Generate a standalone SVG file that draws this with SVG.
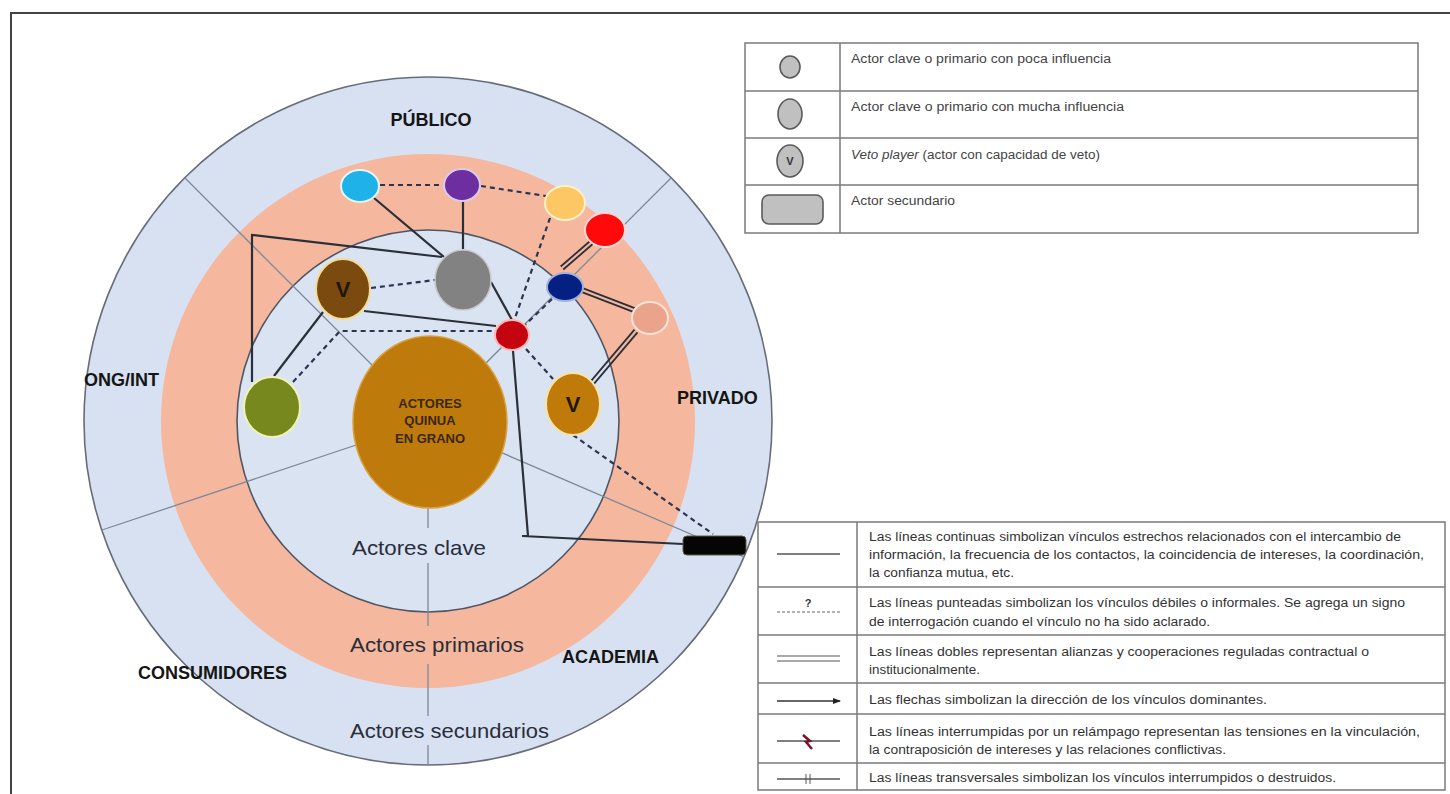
<svg xmlns="http://www.w3.org/2000/svg" width="1450" height="794" viewBox="0 0 1450 794">
<style>
  .sector{stroke:#7d889a;stroke-width:1.3;fill:none}
  .solid{stroke:#2b2f38;stroke-width:2.2;fill:none}
  .dash{stroke:#2a3550;stroke-width:2.2;fill:none;stroke-dasharray:5 4}
  .dbl{stroke:#2b2f38;stroke-width:1.8;fill:none}
  .lab{font-family:"Liberation Sans",Arial,sans-serif;font-weight:bold;font-size:18px;fill:#151515}
  .ring{font-family:"Liberation Sans",Arial,sans-serif;font-size:21px;fill:#2a2d3a}
  .v{font-family:"Liberation Sans",Arial,sans-serif;font-weight:bold;font-size:22px;fill:#1f1608;text-anchor:middle}
  .lt{font-family:"Liberation Sans",Arial,sans-serif;font-size:12px;fill:#444}
  .lb{font-family:"Liberation Sans",Arial,sans-serif;font-size:12px;fill:#333}
  .tbl{stroke:#7a7a7a;stroke-width:1.5;fill:none}
  .sym{fill:#c0c0c0;stroke:#5a5a5a;stroke-width:1.6}
  .qt{font-family:"Liberation Sans",Arial,sans-serif;font-weight:bold;font-size:13px;fill:#3a2710;text-anchor:middle}
</style>
<defs>
  <marker id="arr" markerWidth="8" markerHeight="6" refX="7" refY="3" orient="auto" markerUnits="userSpaceOnUse">
    <path d="M0,0 L8,3 L0,6 Z" fill="#222"/>
  </marker>
</defs>
<rect x="0" y="0" width="1450" height="794" fill="#ffffff"/>
<!-- frame -->
<path d="M11,794 L11,13 L1450,13" fill="none" stroke="#444" stroke-width="2"/>

<!-- rings -->
<g id="rings">
  <circle cx="428" cy="421" r="344" fill="#d7e1f1" stroke="#666c78" stroke-width="1.6"/>
  <circle cx="428" cy="421" r="267" fill="#f5b89e"/>
  <circle cx="428" cy="421" r="191" fill="#d9e3f2" stroke="#4f5563" stroke-width="1.6"/>
</g>

<!-- sector dividers -->
<g id="sectors">
  <line class="sector" x1="428" y1="421" x2="185" y2="178"/>
  <line class="sector" x1="428" y1="421" x2="671" y2="178"/>
  <line class="sector" x1="428" y1="421" x2="744" y2="557"/>
  <line class="sector" x1="428" y1="421" x2="102" y2="530"/>
  <line class="sector" x1="428" y1="508" x2="428" y2="528"/>
  <line class="sector" x1="428" y1="563" x2="428" y2="626"/>
  <line class="sector" x1="428" y1="664" x2="428" y2="716"/>
  <line class="sector" x1="428" y1="745" x2="428" y2="765"/>
</g>

<!-- labels -->
<g id="labels">
  <text class="lab" x="431" y="126" text-anchor="middle">PÚBLICO</text>
  <text class="lab" x="84" y="386">ONG/INT</text>
  <text class="lab" x="677" y="404">PRIVADO</text>
  <text class="lab" x="138" y="679">CONSUMIDORES</text>
  <text class="lab" x="562" y="663">ACADEMIA</text>
  <text class="ring" x="352" y="555" textLength="134" lengthAdjust="spacingAndGlyphs">Actores clave</text>
  <text class="ring" x="350" y="652" textLength="174" lengthAdjust="spacingAndGlyphs" fill="#3a2a2a">Actores primarios</text>
  <text class="ring" x="350" y="738" textLength="199" lengthAdjust="spacingAndGlyphs">Actores secundarios</text>
</g>

<!-- connectors -->
<g id="connectors">
  <!-- solid -->
  <line class="solid" x1="374" y1="198" x2="444" y2="257"/>
  <line class="solid" x1="463" y1="202" x2="463" y2="249"/>
  <line class="solid" x1="491" y1="282" x2="512" y2="320"/>
  <line class="solid" x1="364" y1="311" x2="496" y2="326"/>
  <polyline class="solid" points="442,257 252,235 252,382"/>
  <line class="solid" x1="323" y1="312" x2="274" y2="376"/>
  <polyline class="solid" points="513,351 528,536 522,536 683,544"/>
  <!-- dashed -->
  <line class="dash" x1="380" y1="185" x2="444" y2="185"/>
  <line class="dash" x1="481" y1="186" x2="546" y2="196"/>
  <line class="dash" x1="550" y1="218" x2="514" y2="321"/>
  <line class="dash" x1="371" y1="288" x2="435" y2="280"/>
  <polyline class="dash" points="293,382 340,331 495,331"/>
  <line class="dash" x1="552" y1="299" x2="524" y2="326"/>
  <line class="dash" x1="526" y1="349" x2="553" y2="379"/>
  <line class="dash" x1="573" y1="435" x2="713" y2="534"/>
  <!-- double -->
  <line class="dbl" x1="593.3" y1="243.5" x2="563.3" y2="269.5"/>
  <line class="dbl" x1="590.7" y1="240.5" x2="560.7" y2="266.5"/>
  <line class="dbl" x1="581.3" y1="291.9" x2="633.3" y2="311.9"/>
  <line class="dbl" x1="582.7" y1="288.1" x2="634.7" y2="308.1"/>
  <line class="dbl" x1="637.5" y1="332.3" x2="593.5" y2="384.3"/>
  <line class="dbl" x1="634.5" y1="329.7" x2="590.5" y2="381.7"/>
</g>

<!-- nodes -->
<g id="node-actores">
  <ellipse cx="430" cy="422" rx="77" ry="86" fill="#bf7a0c" stroke="#d9a040" stroke-width="1.5"/>
  <text class="qt" x="430" y="408">ACTORES</text>
  <text class="qt" x="430" y="425">QUINUA</text>
  <text class="qt" x="430" y="443">EN GRANO</text>
</g>
<g id="node-cyan"><ellipse cx="360" cy="186" rx="19" ry="16" fill="#1fb2e8" stroke="#e4f6fc" stroke-width="2"/></g>
<g id="node-purple"><ellipse cx="462" cy="185" rx="18" ry="16" fill="#6d2fa0" stroke="#dccbeb" stroke-width="2"/></g>
<g id="node-yellow"><ellipse cx="565" cy="203" rx="20" ry="17" fill="#fdc765" stroke="#fff1c8" stroke-width="2"/></g>
<g id="node-red"><ellipse cx="605" cy="230" rx="20" ry="17" fill="#fe0a0a" stroke="#ffd6d6" stroke-width="2"/></g>
<g id="node-navy"><ellipse cx="565" cy="287" rx="18" ry="14" fill="#042082" stroke="#a3b0da" stroke-width="2"/></g>
<g id="node-salmon"><ellipse cx="650" cy="318" rx="18" ry="16" fill="#eba48c" stroke="#fbe3da" stroke-width="2"/></g>
<g id="node-grey"><ellipse cx="463" cy="280" rx="28" ry="30" fill="#828282" stroke="#c8c8c8" stroke-width="1.5"/></g>
<g id="node-brown-v">
  <ellipse cx="343" cy="289" rx="27" ry="30" fill="#7a4a0e" stroke="#f3dc98" stroke-width="2"/>
  <text class="v" x="343" y="297">V</text>
</g>
<g id="node-darkred"><ellipse cx="512" cy="335" rx="17" ry="15" fill="#c40510" stroke="#ffb6b6" stroke-width="2"/></g>
<g id="node-ochre-v">
  <ellipse cx="573" cy="404" rx="27" ry="31" fill="#c07a0a" stroke="#f8e2a6" stroke-width="2"/>
  <text class="v" x="573" y="412">V</text>
</g>
<g id="node-green"><ellipse cx="272" cy="407" rx="28" ry="30" fill="#77881f" stroke="#f2f2b8" stroke-width="2"/></g>
<g id="node-black"><rect x="683" y="536" width="63" height="19" rx="4" fill="#050505" stroke="#5a5a40" stroke-width="1"/></g>

<!-- top legend -->
<g id="legend-top">
  <rect class="tbl" x="745" y="43" width="673" height="190"/>
  <line class="tbl" x1="745" y1="91" x2="1418" y2="91"/>
  <line class="tbl" x1="745" y1="138" x2="1418" y2="138"/>
  <line class="tbl" x1="745" y1="185" x2="1418" y2="185"/>
  <line class="tbl" x1="840" y1="43" x2="840" y2="233"/>
  <ellipse class="sym" cx="790" cy="67" rx="10" ry="11"/>
  <ellipse class="sym" cx="790" cy="114" rx="12" ry="15"/>
  <ellipse class="sym" cx="790" cy="161" rx="13" ry="16"/>
  <text x="790" y="165" text-anchor="middle" font-family="Liberation Sans, Arial, sans-serif" font-size="11" font-weight="bold" fill="#333">V</text>
  <rect class="sym" x="762" y="195" width="61" height="29" rx="7"/>
  <text class="lt" x="851" y="63" textLength="260" lengthAdjust="spacingAndGlyphs">Actor clave o primario con poca influencia</text>
  <text class="lt" x="851" y="111" textLength="273" lengthAdjust="spacingAndGlyphs">Actor clave o primario con mucha influencia</text>
  <text class="lt" x="851" y="159" textLength="249" lengthAdjust="spacingAndGlyphs"><tspan font-style="italic">Veto player</tspan> (actor con capacidad de veto)</text>
  <text class="lt" x="851" y="205" textLength="104" lengthAdjust="spacingAndGlyphs">Actor secundario</text>
</g>

<!-- bottom legend -->
<g id="legend-bottom">
  <rect class="tbl" x="758" y="522" width="687" height="268" fill="#fff"/>
  <line class="tbl" x1="758" y1="587" x2="1445" y2="587"/>
  <line class="tbl" x1="758" y1="635" x2="1445" y2="635"/>
  <line class="tbl" x1="758" y1="683" x2="1445" y2="683"/>
  <line class="tbl" x1="758" y1="714" x2="1445" y2="714"/>
  <line class="tbl" x1="758" y1="763" x2="1445" y2="763"/>
  <line class="tbl" x1="857" y1="522" x2="857" y2="790"/>
  <!-- symbols -->
  <line x1="777" y1="554" x2="840" y2="554" stroke="#555" stroke-width="1.3"/>
  <text x="808" y="607" text-anchor="middle" font-family="Liberation Sans, Arial, sans-serif" font-size="11" font-weight="bold" fill="#333">?</text>
  <line x1="777" y1="612" x2="840" y2="612" stroke="#666" stroke-width="1" stroke-dasharray="3 2"/>
  <line x1="777" y1="656" x2="840" y2="656" stroke="#555" stroke-width="1.2"/>
  <line x1="777" y1="661" x2="840" y2="661" stroke="#555" stroke-width="1.2"/>
  <line x1="777" y1="701" x2="840" y2="701" stroke="#333" stroke-width="1.3" marker-end="url(#arr)"/>
  <line x1="777" y1="741" x2="840" y2="741" stroke="#555" stroke-width="1.3"/>
  <path d="M803,735 L810,741 L806,742 L812,749" fill="none" stroke="#7a1025" stroke-width="2.4"/>
  <line x1="777" y1="779" x2="840" y2="779" stroke="#555" stroke-width="1.3"/>
  <line x1="806" y1="774" x2="806" y2="784" stroke="#555" stroke-width="1"/>
  <line x1="810" y1="774" x2="810" y2="784" stroke="#555" stroke-width="1"/>
  <!-- texts -->
  <text class="lb" x="869" y="541" textLength="532" lengthAdjust="spacingAndGlyphs">Las líneas continuas simbolizan vínculos estrechos relacionados con el intercambio de</text>
  <text class="lb" x="869" y="559" textLength="555" lengthAdjust="spacingAndGlyphs">información, la frecuencia de los contactos, la coincidencia de intereses, la coordinación,</text>
  <text class="lb" x="869" y="577" textLength="145" lengthAdjust="spacingAndGlyphs">la confianza mutua, etc.</text>
  <text class="lb" x="869" y="607" textLength="536" lengthAdjust="spacingAndGlyphs">Las líneas punteadas simbolizan los vínculos débiles o informales. Se agrega un signo</text>
  <text class="lb" x="869" y="626" textLength="341" lengthAdjust="spacingAndGlyphs">de interrogación cuando el vínculo no ha sido aclarado.</text>
  <text class="lb" x="869" y="656" textLength="500" lengthAdjust="spacingAndGlyphs">Las líneas dobles representan alianzas y cooperaciones reguladas contractual o</text>
  <text class="lb" x="869" y="674" textLength="111" lengthAdjust="spacingAndGlyphs">institucionalmente.</text>
  <text class="lb" x="869" y="704" textLength="398" lengthAdjust="spacingAndGlyphs">Las flechas simbolizan la dirección de los vínculos dominantes.</text>
  <text class="lb" x="869" y="736" textLength="551" lengthAdjust="spacingAndGlyphs">Las líneas interrumpidas por un relámpago representan las tensiones en la vinculación,</text>
  <text class="lb" x="869" y="754" textLength="357" lengthAdjust="spacingAndGlyphs">la contraposición de intereses y las relaciones conflictivas.</text>
  <text class="lb" x="869" y="782" textLength="467" lengthAdjust="spacingAndGlyphs">Las líneas transversales simbolizan los vínculos interrumpidos o destruidos.</text>
</g>
</svg>
